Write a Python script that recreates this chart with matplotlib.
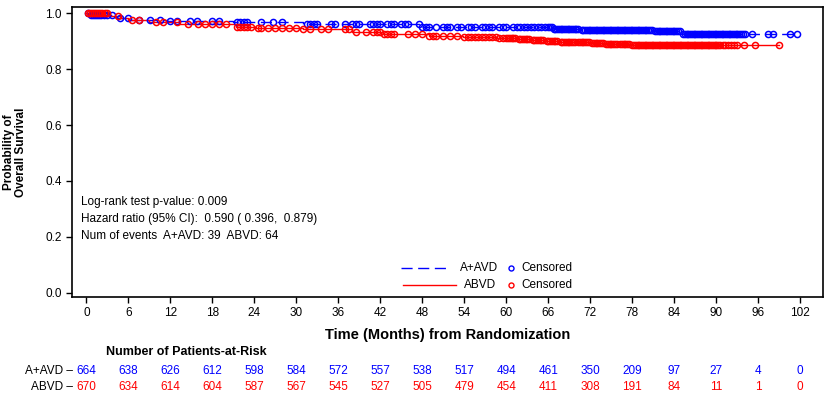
import numpy as np
import matplotlib
matplotlib.use("Agg")
import matplotlib.pyplot as plt
from matplotlib.lines import Line2D
import matplotlib.transforms as mtransforms

plt.rcParams['font.family'] = ['Liberation Sans', 'DejaVu Sans']

# ---- data ----
blue_event_t = [0, 0.5, 4.3, 6.2, 11.5, 21.0, 31.0, 47.6, 66.6, 70.5, 81.0, 85.0, 101.6]
blue_surv    = [1.0, 0.994, 0.982, 0.976, 0.972, 0.968, 0.962, 0.950, 0.944, 0.941, 0.937, 0.925, 0.925]

red_event_t = [0, 3.4, 4.8, 6.0, 9.0, 13.3, 21.4, 24.3, 31.0, 38.0, 42.4, 49.0, 53.8,
               58.7, 61.5, 63.4, 65.5, 67.6, 70.0, 72.0, 74.0, 76.0, 77.7, 99.0]
red_surv    = [1.0, 0.990, 0.982, 0.976, 0.970, 0.962, 0.952, 0.946, 0.943, 0.932, 0.925, 0.920, 0.914,
               0.910, 0.907, 0.904, 0.901, 0.898, 0.896, 0.893, 0.891, 0.889, 0.887, 0.887]

blue_censor = [0.3, 0.6, 0.9, 1.2, 1.5, 1.8, 2.1, 2.5, 3.0, 3.6, 4.8, 6.0, 7.5, 9.1, 10.5, 12.0,
               13.0, 14.8, 15.8, 18.0, 19.0, 21.5, 22.0, 22.5, 22.9, 25.0, 26.7, 28.0, 31.5, 32.0,
               32.5, 33.0, 35.0, 35.5, 37.0, 38.0, 38.5, 39.0, 40.5, 41.0, 41.5, 42.0, 43.0, 43.5,
               44.0, 45.0, 45.5, 46.0, 47.5, 48.0, 48.5, 49.0, 50.0, 51.0, 51.5, 52.0, 53.0, 53.5,
               54.5, 55.0, 55.5, 56.5, 57.0, 57.5, 58.0, 59.0, 59.5, 60.0, 61.0, 61.5, 62.0, 62.5,
               63.0, 63.5, 64.0, 64.5, 65.0, 65.5,
               66.0, 66.25, 66.5, 66.75, 67.0, 67.25, 67.5, 67.75, 68.0, 68.25, 68.5, 68.75, 69.0,
               69.25, 69.5, 69.75, 70.0, 70.25, 70.75, 71.0, 71.25, 71.5, 71.75, 72.0, 72.25, 72.5,
               72.75, 73.0, 73.25, 73.5, 73.75, 74.0, 74.25, 74.5, 74.75, 75.0, 75.25, 75.5, 75.75,
               76.0, 76.25, 76.5, 76.75, 77.0, 77.25, 77.5, 77.75, 78.0, 78.25, 78.5, 78.75, 79.0,
               79.25, 79.5, 79.75, 80.0, 80.25, 80.5, 80.75, 81.25, 81.5, 81.75, 82.0, 82.25, 82.5,
               82.75, 83.0, 83.25, 83.5, 83.75, 84.0, 84.25, 84.5, 84.75, 85.25, 85.5, 85.75, 86.0,
               86.25, 86.5, 86.75, 87.0, 87.25, 87.5, 87.75, 88.0, 88.25, 88.5, 88.75, 89.0, 89.25,
               89.5, 89.75, 90.0, 90.25, 90.5, 90.75, 91.0, 91.25, 91.5, 91.75, 92.0, 92.25, 92.5,
               92.75, 93.0, 93.25, 93.5, 93.8, 94.1, 95.1, 97.4, 98.1, 100.5, 101.5]

red_censor = [0.2, 0.5, 0.8, 1.1, 1.4, 1.7, 2.0, 2.3, 2.6, 3.0, 4.5, 6.5, 7.5, 10.0, 11.0, 13.0,
              14.5, 16.0, 17.0, 18.0, 19.0, 20.0, 21.5, 22.0, 22.5, 23.0, 23.5, 24.5, 25.0, 26.0,
              27.0, 28.0, 29.0, 30.0, 31.0, 32.0, 33.5, 34.5, 37.0, 37.5, 38.5, 40.0, 41.0, 41.5,
              42.0, 42.5, 43.0, 43.5, 44.0, 46.0, 47.0, 48.0, 49.0, 49.5, 50.0, 51.0, 52.0, 53.0,
              54.0, 54.5, 55.0, 55.5, 56.0, 56.5, 57.0, 57.5, 58.0, 58.5, 59.0, 59.5,
              60.0, 60.25, 60.5, 60.75, 61.0, 61.25, 61.75, 62.0, 62.25, 62.5, 62.75, 63.0, 63.25,
              63.75, 64.0, 64.25, 64.5, 64.75, 65.0, 65.25, 65.75, 66.0, 66.25, 66.5, 66.75, 67.0,
              67.25, 67.75, 68.0, 68.25, 68.5, 68.75, 69.0, 69.25, 69.5, 69.75, 70.25, 70.5, 70.75,
              71.0, 71.25, 71.5, 71.75, 72.25, 72.5, 72.75, 73.0, 73.25, 73.5, 73.75, 74.25, 74.5,
              74.75, 75.0, 75.25, 75.5, 75.75, 76.25, 76.5, 76.75, 77.0, 77.25, 77.5, 78.0, 78.25,
              78.5, 78.75, 79.0, 79.25, 79.5, 79.75, 80.0, 80.25, 80.5, 80.75, 81.0, 81.25, 81.5,
              81.75, 82.0, 82.25, 82.5, 82.75, 83.0, 83.25, 83.5, 83.75, 84.0, 84.25, 84.5, 84.75,
              85.0, 85.25, 85.5, 85.75, 86.0, 86.25, 86.5, 86.75, 87.0, 87.25, 87.5, 87.75, 88.0,
              88.25, 88.5, 88.75, 89.0, 89.25, 89.5, 89.75, 90.0, 90.25, 90.5, 90.9, 91.3, 91.7,
              92.1, 92.5, 93.0, 94.0, 95.5, 99.0]

risk_times = [0, 6, 12, 18, 24, 30, 36, 42, 48, 54, 60, 66, 72, 78, 84, 90, 96, 102]
risk_blue = [664, 638, 626, 612, 598, 584, 572, 557, 538, 517, 494, 461, 350, 209, 97, 27, 4, 0]
risk_red = [670, 634, 614, 604, 587, 567, 545, 527, 505, 479, 454, 411, 308, 191, 84, 11, 1, 0]

group_names = ["A+AVD", "ABVD"]
stats_lines = ["Log-rank test p-value: 0.009",
               "Hazard ratio (95% CI):  0.590 ( 0.396,  0.879)",
               "Num of events  A+AVD: 39  ABVD: 64"]

BLUE = "#0000FF"
RED = "#FF0000"
MS = 4.4
MEW = 1.1
BLUE_DASH = (0, (8, 4))

W, H = 829, 399
fig = plt.figure(figsize=(W / 100, H / 100), dpi=100)
ax = fig.add_axes([72 / W, 1 - 297 / H, (822.7 - 72) / W, (297 - 7) / H])


def surv_at(times, ev_t, surv):
    idx = np.searchsorted(np.asarray(ev_t), np.asarray(times), side='right') - 1
    return np.asarray(surv)[idx]


ax.step(blue_event_t, blue_surv, where='post', color=BLUE, lw=1.0, linestyle=BLUE_DASH)
ax.step(red_event_t, red_surv, where='post', color=RED, lw=1.0)
ax.plot(blue_censor, surv_at(blue_censor, blue_event_t, blue_surv), 'o', ms=MS,
        mfc='none', mec=BLUE, mew=MEW, linestyle='none')
ax.plot(red_censor, surv_at(red_censor, red_event_t, red_surv), 'o', ms=MS,
        mfc='none', mec=RED, mew=MEW, linestyle='none')

ax.set_xlim(-2.05, 105.2)
ax.set_ylim(-0.0155, 1.0225)
ax.set_xticks(risk_times)
ax.set_yticks([0, 0.2, 0.4, 0.6, 0.8, 1.0])
ax.set_yticklabels([f"{v:.1f}" for v in [0, 0.2, 0.4, 0.6, 0.8, 1.0]])
ax.tick_params(axis='both', direction='out', length=4.5, width=1.0, labelsize=8.5, pad=3)
for s in ax.spines.values():
    s.set_linewidth(1.2)

ax.set_xlabel("Time (Months) from Randomization", fontsize=10.5, fontweight='bold', labelpad=6)
ax.set_ylabel("Probability of\nOverall Survival", fontsize=8.5, fontweight='bold',
              linespacing=0.95)
ax.yaxis.set_label_coords((27 - 72) / 750, 0.5)

# stats text
for i, line in enumerate(stats_lines):
    ax.text(0.012, (297 - (201.7 + 17 * i)) / 290, line, transform=ax.transAxes,
            fontsize=8.5, va='center', ha='left')

# legend (drawn in figure pixel layout)
def fx(px):
    return px / W


def fy(py):
    return 1 - py / H


leg_rows = [(group_names[0], BLUE, BLUE_DASH, 401, 448, 460, 268),
            (group_names[1], RED, '-', 403, 456, 464, 285)]
for name, col, ls, x0, x1, xt, yy in leg_rows:
    fig.add_artist(Line2D([fx(x0), fx(x1)], [fy(yy), fy(yy)], color=col, lw=1.0,
                          linestyle=ls, transform=fig.transFigure))
    fig.text(fx(xt), fy(yy), name, fontsize=8.5, va='center', ha='left')
    fig.add_artist(Line2D([fx(511)], [fy(yy)], marker='o', ms=3.6, mfc='none', mec=col,
                          mew=1.0, linestyle='none', transform=fig.transFigure))
    fig.text(fx(521), fy(yy), "Censored", fontsize=8.5, va='center', ha='left')

# risk table
trans = mtransforms.blended_transform_factory(ax.transData, fig.transFigure)
fig.text(106 / W, 1 - 352 / H, "Number of Patients-at-Risk", fontsize=9, fontweight='bold',
         va='center', ha='left')
for row, (name, vals, col) in enumerate([(group_names[0], risk_blue, BLUE),
                                         (group_names[1], risk_red, RED)]):
    yy = 1 - (371 + 16 * row) / H
    fig.text(73 / W, yy, name + " \u2013", fontsize=8.5, va='center', ha='right', color='black')
    for t, v in zip(risk_times, vals):
        ax.text(t, yy, str(v), transform=trans, fontsize=8.5, va='center', ha='center', color=col)

fig.savefig("out.png", dpi=100)
